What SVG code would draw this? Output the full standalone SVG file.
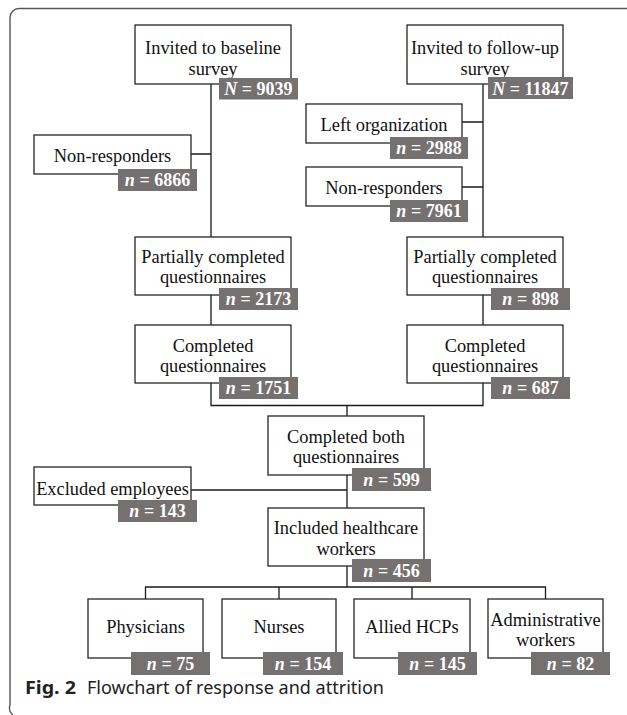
<svg xmlns="http://www.w3.org/2000/svg" width="627" height="715" viewBox="0 0 627 715">
<style>
.box{fill:#fff;stroke:#262626;stroke-width:1.3}
.lab{fill:#767171}
.t{font-family:"Liberation Serif","Times New Roman",serif;font-size:18.4px;fill:#111;text-anchor:middle}
.n{font-family:"Liberation Serif","Times New Roman",serif;font-size:18px;font-weight:bold;fill:#fff;text-anchor:middle}
.n tspan.i{font-style:italic}
.c{fill:none;stroke:#1a1a1a;stroke-width:1.3}
.cap{font-family:"Noto Sans","Open Sans",sans-serif;font-size:17.5px;fill:#222}
</style>
<rect width="627" height="715" fill="#fff"/>
<path d="M627,8.5 H19 A9,9 0 0 0 10,17.5 V705 A9,9 0 0 0 13,715" fill="none" stroke="#555" stroke-width="1.4"/>

<g id="connectors">
<path class="c" d="M211,84 V237 M191,154 H211 M211,295 V325 M211,383 V405.5 H483 V383 M347,405.5 V416"/>
<path class="c" d="M483,84 V237 M462,122 H483 M462,187 H483 M483,295 V325"/>
<path class="c" d="M347,475 V508 M191,490 H347 M347,566 V587 M145.5,599 V587 H545.5 V599 M279,587 V599 M412,587 V599"/>
</g>

<g id="baseline">
<rect class="box" x="135" y="25" width="156" height="59"/>
<text class="t" x="213" y="54">Invited to baseline</text>
<text class="t" x="213" y="74.5">survey</text>
<rect class="lab" x="219" y="78" width="79" height="21.5"/>
<text class="n" x="258.5" y="95"><tspan class="i">N</tspan> = 9039</text>
</g>

<g id="followup">
<rect class="box" x="407" y="25" width="156" height="59"/>
<text class="t" x="485" y="54">Invited to follow-up</text>
<text class="t" x="485" y="74.5">survey</text>
<rect class="lab" x="488" y="77" width="85" height="22"/>
<text class="n" x="530.5" y="94.5"><tspan class="i">N</tspan> = 11847</text>
</g>

<g id="nonresp1">
<rect class="box" x="34" y="135" width="157" height="39"/>
<text class="t" x="112.5" y="162">Non-responders</text>
<rect class="lab" x="118" y="169" width="79" height="22"/>
<text class="n" x="157.5" y="186"><tspan class="i">n</tspan> = 6866</text>
</g>

<g id="leftorg">
<rect class="box" x="306" y="104" width="156" height="39"/>
<text class="t" x="384" y="131">Left organization</text>
<rect class="lab" x="390" y="137" width="78" height="22"/>
<text class="n" x="429" y="154"><tspan class="i">n</tspan> = 2988</text>
</g>

<g id="nonresp2">
<rect class="box" x="306" y="167" width="156" height="39"/>
<text class="t" x="384" y="194">Non-responders</text>
<rect class="lab" x="390" y="200" width="78" height="22"/>
<text class="n" x="429" y="217"><tspan class="i">n</tspan> = 7961</text>
</g>

<g id="partial1">
<rect class="box" x="135" y="237" width="156" height="58"/>
<text class="t" x="213" y="263">Partially completed</text>
<text class="t" x="213" y="283">questionnaires</text>
<rect class="lab" x="219" y="288" width="79" height="22"/>
<text class="n" x="258.5" y="305"><tspan class="i">n</tspan> = 2173</text>
</g>

<g id="partial2">
<rect class="box" x="407" y="237" width="156" height="58"/>
<text class="t" x="485" y="263">Partially completed</text>
<text class="t" x="485" y="283">questionnaires</text>
<rect class="lab" x="491" y="288" width="79" height="22"/>
<text class="n" x="530.5" y="305"><tspan class="i">n</tspan> = 898</text>
</g>

<g id="complete1">
<rect class="box" x="135" y="325" width="156" height="58"/>
<text class="t" x="213" y="352">Completed</text>
<text class="t" x="213" y="372">questionnaires</text>
<rect class="lab" x="219" y="377" width="79" height="22"/>
<text class="n" x="258.5" y="394"><tspan class="i">n</tspan> = 1751</text>
</g>

<g id="complete2">
<rect class="box" x="407" y="325" width="156" height="58"/>
<text class="t" x="485" y="352">Completed</text>
<text class="t" x="485" y="372">questionnaires</text>
<rect class="lab" x="491" y="377" width="79" height="22"/>
<text class="n" x="530.5" y="394"><tspan class="i">n</tspan> = 687</text>
</g>

<g id="both">
<rect class="box" x="268" y="416" width="156" height="59"/>
<text class="t" x="346" y="443">Completed both</text>
<text class="t" x="346" y="463">questionnaires</text>
<rect class="lab" x="352" y="468" width="79" height="23"/>
<text class="n" x="391.5" y="486"><tspan class="i">n</tspan> = 599</text>
</g>

<g id="excluded">
<rect class="box" x="34" y="467" width="157" height="38"/>
<text class="t" x="112.5" y="495">Excluded employees</text>
<rect class="lab" x="118" y="500" width="79" height="22"/>
<text class="n" x="157.5" y="517"><tspan class="i">n</tspan> = 143</text>
</g>

<g id="included">
<rect class="box" x="268" y="508" width="156" height="58"/>
<text class="t" x="346" y="534">Included healthcare</text>
<text class="t" x="346" y="555">workers</text>
<rect class="lab" x="352" y="559" width="79" height="23"/>
<text class="n" x="391.5" y="577"><tspan class="i">n</tspan> = 456</text>
</g>

<g id="physicians">
<rect class="box" x="88" y="599" width="115" height="59"/>
<text class="t" x="145.5" y="633">Physicians</text>
<rect class="lab" x="131" y="652" width="79" height="23"/>
<text class="n" x="170.5" y="670"><tspan class="i">n</tspan> = 75</text>
</g>

<g id="nurses">
<rect class="box" x="222" y="599" width="114" height="59"/>
<text class="t" x="279" y="633">Nurses</text>
<rect class="lab" x="263" y="652" width="80" height="23"/>
<text class="n" x="303" y="670"><tspan class="i">n</tspan> = 154</text>
</g>

<g id="allied">
<rect class="box" x="354" y="599" width="116" height="59"/>
<text class="t" x="412" y="633">Allied HCPs</text>
<rect class="lab" x="398" y="652" width="79" height="23"/>
<text class="n" x="437.5" y="670"><tspan class="i">n</tspan> = 145</text>
</g>

<g id="admin">
<rect class="box" x="488" y="599" width="115" height="59"/>
<text class="t" x="545.5" y="626">Administrative</text>
<text class="t" x="545.5" y="646">workers</text>
<rect class="lab" x="531" y="652" width="79" height="23"/>
<text class="n" x="570.5" y="670"><tspan class="i">n</tspan> = 82</text>
</g>

<g id="caption">
<text class="cap" x="25" y="694" font-weight="bold" textLength="51" lengthAdjust="spacingAndGlyphs">Fig. 2</text>
<text class="cap" x="87" y="694" textLength="297" lengthAdjust="spacingAndGlyphs">Flowchart of response and attrition</text>
</g>
</svg>
